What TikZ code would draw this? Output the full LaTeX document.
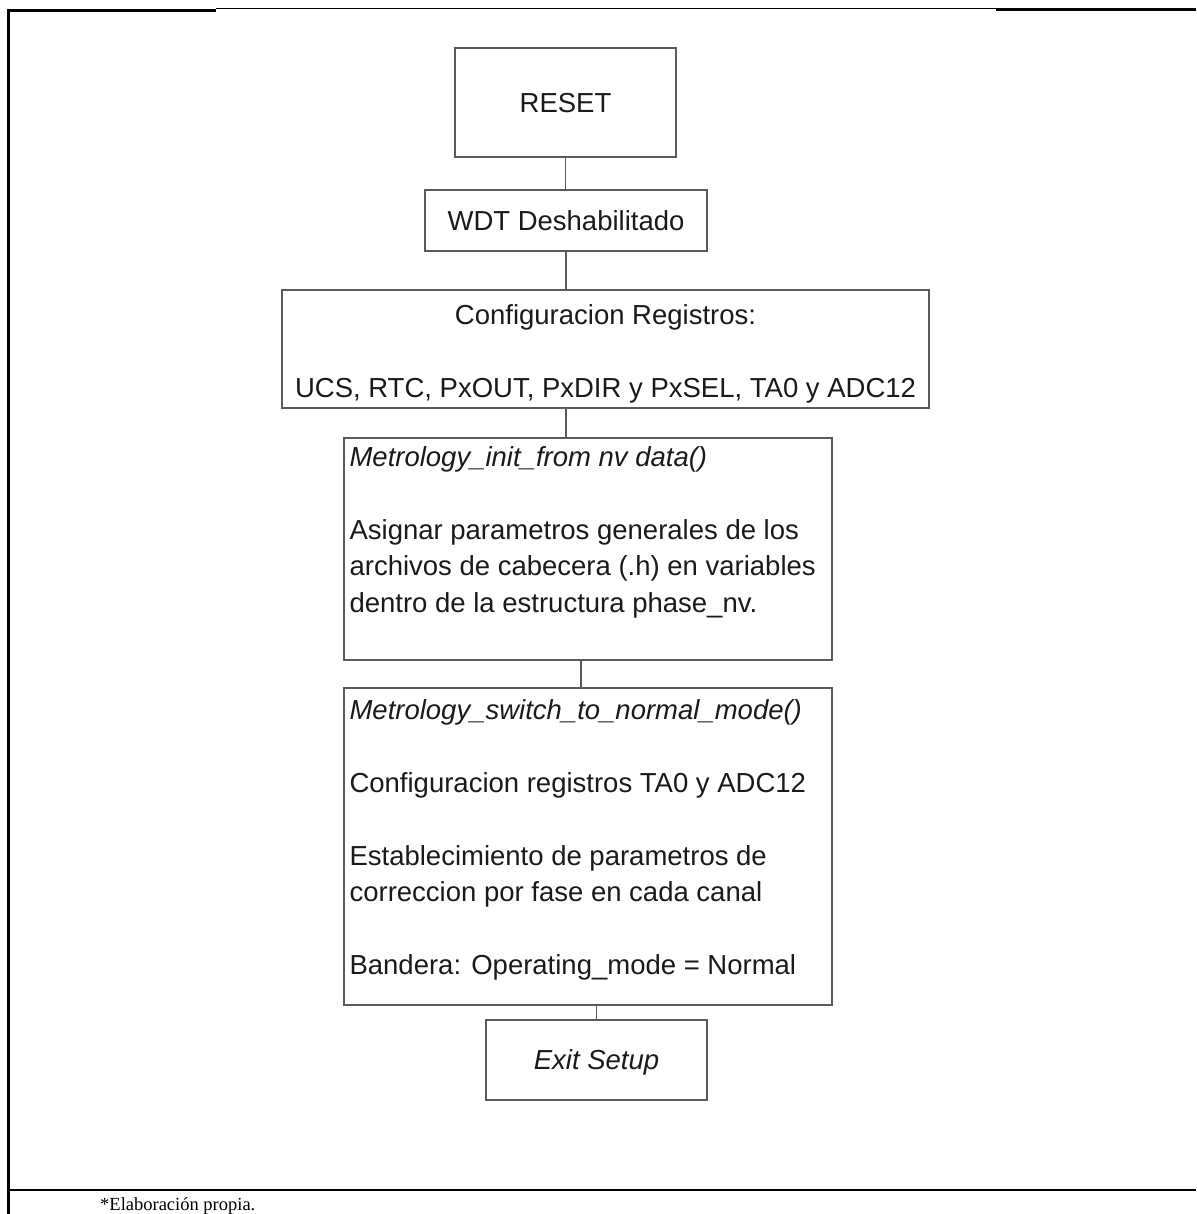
\documentclass[tikz,border=0pt]{standalone}
\usepackage{fontspec}
\setmainfont{Liberation Sans}
\newfontfamily\notefont{Liberation Serif}
\usetikzlibrary{calc}
\definecolor{boxgray}{HTML}{5A5A5A}
\definecolor{ink}{HTML}{1A1A1A}
\begin{document}
\begin{tikzpicture}[x=1pt,y=-1pt,
  flowbox/.style={draw=boxgray, line width=1.3pt, inner sep=0pt, text=ink,
    font=\fontsize{27.5}{36.5}\selectfont, text depth=0pt},
  bodytext/.style={inner sep=0pt, text=ink, font=\fontsize{27.5}{36.5}\selectfont},
  link/.style={draw=boxgray, line width=1.3pt}]
\useasboundingbox (0,0) rectangle (1196,1214);

% page frame
\draw[line width=3pt] (8.5,1214) -- (8.5,10.5) -- (216,10.5);
\draw[line width=1pt] (216,8.5) -- (996,8.5);
\draw[line width=2.5pt] (996,9.5) -- (1196,9.5);
\draw[line width=2.5pt] (7,1190) -- (1196,1190);

% flowchart boxes
\node[flowbox, minimum width=221pt, minimum height=109pt] (reset) at (565.5,102.5) {RESET};
\node[flowbox, minimum width=282pt, minimum height=61pt] (wdt) at (566,220.5) {WDT Deshabilitado};
\node[flowbox, minimum width=647pt, minimum height=118pt] (config) at (605.5,349) {};
\node[flowbox, minimum width=488pt, minimum height=222pt] (init) at (588,549) {};
\node[flowbox, minimum width=488pt, minimum height=317pt] (switch) at (588,846.5) {};
\node[flowbox, minimum width=221pt, minimum height=80pt] (exit) at (596.5,1060) {\itshape Exit Setup};

% box contents
\node[bodytext, align=center, anchor=north] (configtxt) at ($(config.north)+(0,15)$)
  {Configuracion Registros:\\[36.5pt]UCS, RTC, PxOUT, PxDIR y PxSEL, TA0 y ADC12};
\node[bodytext, align=left, anchor=north west] (inittxt) at ($(init.north west)+(6,9)$)
  {\textit{Metrology\_init\_from nv data()}\\[36.5pt]
   Asignar parametros generales de los\\
   archivos de cabecera (.h) en variables\\
   dentro de la estructura phase\_nv.};
\node[bodytext, align=left, anchor=north west] (switchtxt) at ($(switch.north west)+(6,12)$)
  {\textit{Metrology\_switch\_to\_normal\_mode()}\\[36.5pt]
   Configuracion registros TA0 y ADC12\\[36.5pt]
   Establecimiento de parametros de\\
   correccion por fase en cada canal\\[36.5pt]
   Bandera: Operating\_mode = Normal};

% connectors
\draw[link] (reset.south) -- (reset.south |- wdt.north);
\draw[link] (wdt.south) -- (wdt.south |- config.north);
\draw[link] (config.south -| wdt.south) -- (init.north -| wdt.south);
\draw[link] ($(init.south)+(-7,0)$) -- ($(switch.north)+(-7,0)$);
\draw[link] (exit.north) -- (exit.north |- switch.south);

% source note
\node[anchor=base west, inner sep=0pt, font=\notefont\fontsize{18.5}{22}\selectfont] (note) at (100,1210) {*Elaboración propia.};
\end{tikzpicture}
\end{document}
